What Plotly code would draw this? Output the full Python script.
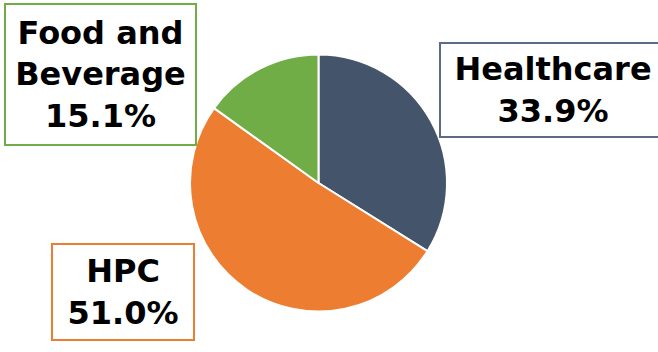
import plotly.graph_objects as go

# Segment shares (%)
segments = ["Healthcare", "HPC", "Food and Beverage"]
shares = [33.9, 51.0, 15.1]
label_lines = [["Healthcare"], ["HPC"], ["Food and", "Beverage"]]
colors = ["#44546A", "#ED7D31", "#70AD47"]
border_colors = ["#5B6B85", "#ED7D31", "#70AD47"]

W, H = 658, 352

fig = go.Figure(
    go.Pie(
        labels=segments,
        values=shares,
        sort=False,
        direction="clockwise",
        rotation=0,
        textinfo="none",
        hoverinfo="label+percent",
        marker=dict(colors=colors, line=dict(color="white", width=2)),
        domain=dict(x=[190 / W, 447 / W], y=[1 - 311.5 / H, 1 - 54.5 / H]),
        showlegend=False,
    )
)

# Callout boxes: (center x, center y, width, height) in pixels
boxes = [(553, 90, 228, 96), (123, 292, 144, 98), (100.5, 74.5, 193, 143)]

for lines, val, bc, (cx, cy, bw, bh) in zip(label_lines, shares, border_colors, boxes):
    text = "<br>".join(lines + [f"{val:.1f}%"])
    fig.add_annotation(
        x=cx / W, y=1 - cy / H, xref="paper", yref="paper",
        xanchor="center", yanchor="middle",
        text=f"<b>{text}</b>", showarrow=False,
        width=bw - 4, height=bh - 4,
        bordercolor=bc, borderwidth=2, borderpad=0,
        bgcolor="white",
        font=dict(family="DejaVu Sans", size=32, color="black"),
        align="center",
    )

fig.update_layout(
    width=W, height=H,
    margin=dict(l=0, r=0, t=0, b=0),
    paper_bgcolor="white", plot_bgcolor="white",
)

fig.write_html("out.html")
